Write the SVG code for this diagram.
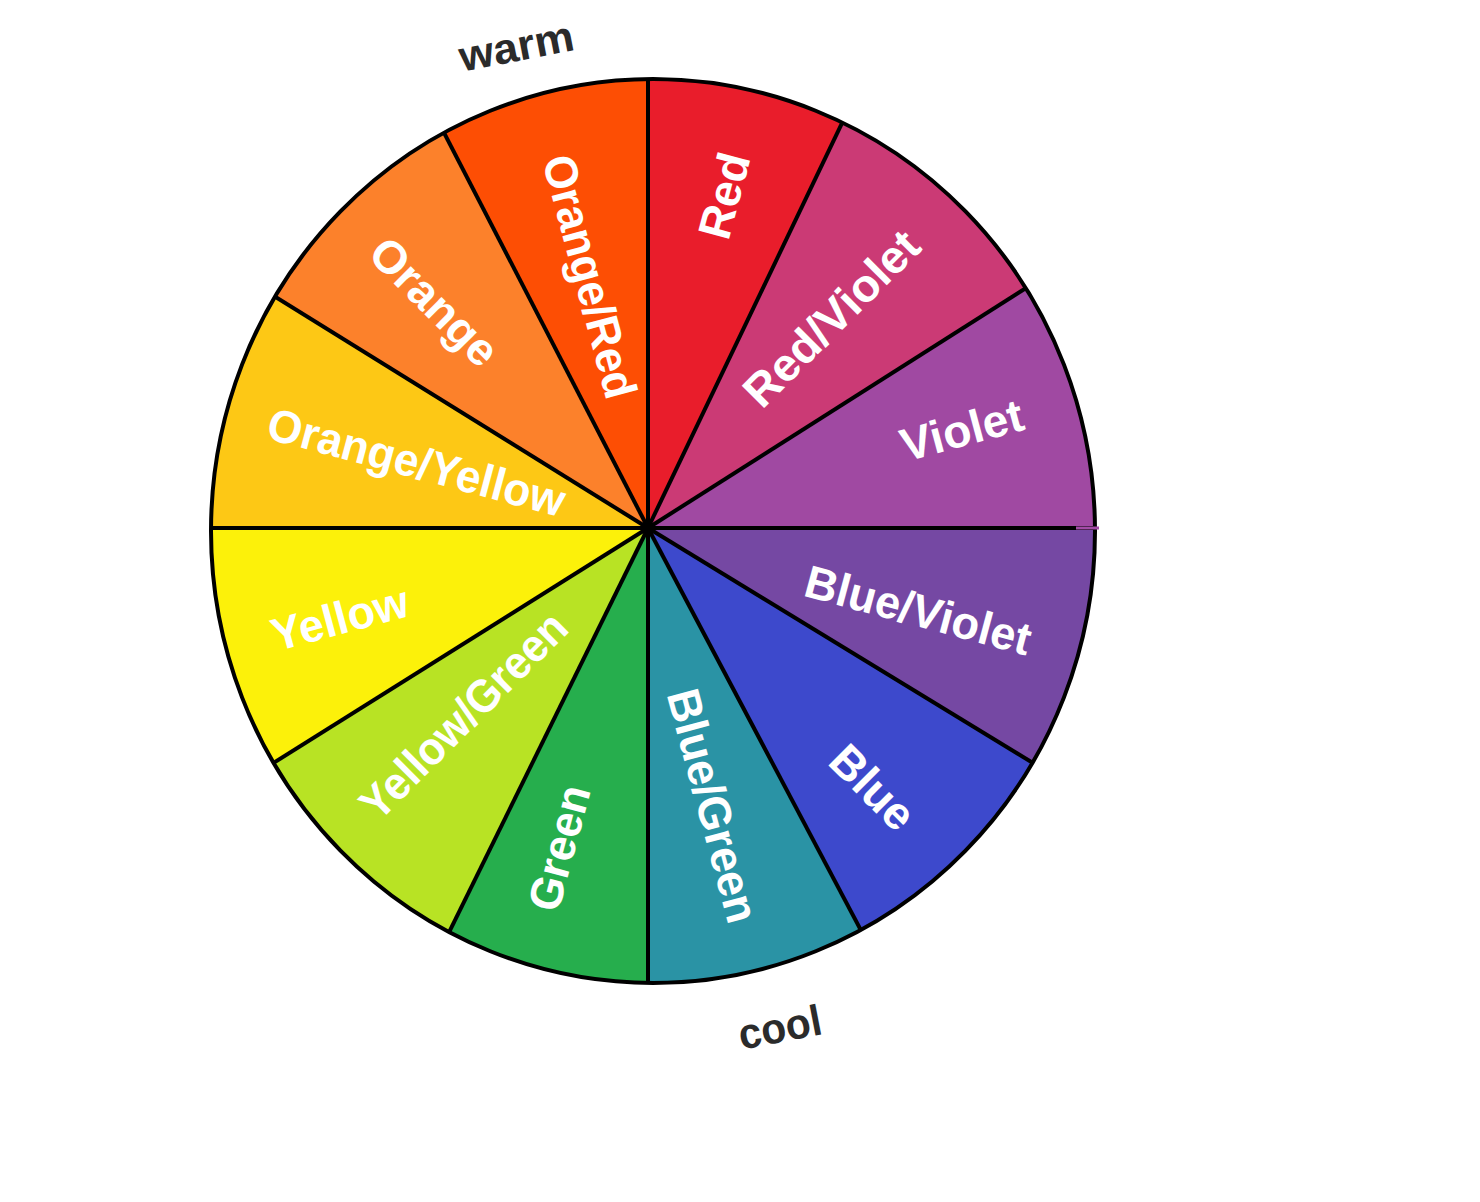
<svg xmlns="http://www.w3.org/2000/svg" width="1480" height="1202" viewBox="0 0 1480 1202">
  <style>
    .lbl { font-family: "Liberation Sans", Arial, sans-serif; font-weight: bold; font-size: 46px; fill: #ffffff; text-anchor: middle; }
    .side { font-family: "Liberation Sans", Arial, sans-serif; font-weight: bold; font-size: 43px; fill: #2b2b2b; text-anchor: middle; }
    .spoke { stroke: #000; stroke-width: 4; fill: none; }
  </style>
  <defs>
    <clipPath id="disk">
      <ellipse cx="653" cy="531" rx="442" ry="452"/>
    </clipPath>
  </defs>
  <rect width="1480" height="1202" fill="#ffffff"/>

  <g id="wheel" clip-path="url(#disk)">
    <polygon id="seg-red" points="648,528 648,-172 950.5,-103.3" fill="#E91D2B"/>
    <polygon id="seg-red-violet" points="648,528 950.5,-103.3 1239,152.9" fill="#CB3A75"/>
    <polygon id="seg-violet" points="648,528 1239,152.9 1348,528" fill="#A049A2"/>
    <polygon id="seg-blue-violet" points="648,528 1348,528 1245.5,892.7" fill="#7548A3"/>
    <polygon id="seg-blue" points="648,528 1245.5,892.7 975.5,1146.7" fill="#3D49CC"/>
    <polygon id="seg-blue-green" points="648,528 975.5,1146.7 648,1228" fill="#2A93A5"/>
    <polygon id="seg-green" points="648,528 648,1228 338.9,1156.1" fill="#26AE4D"/>
    <polygon id="seg-yellow-green" points="648,528 338.9,1156.1 55,900" fill="#B8E324"/>
    <polygon id="seg-yellow" points="648,528 55,900 -52,528" fill="#FCF10A"/>
    <polygon id="seg-orange-yellow" points="648,528 -52,528 53.1,159.1" fill="#FDC815"/>
    <polygon id="seg-orange" points="648,528 53.1,159.1 327,-94" fill="#FC812B"/>
    <polygon id="seg-orange-red" points="648,528 327,-94 648,-172" fill="#FD4E04"/>
  </g>

  <g id="connectors" clip-path="url(#disk)">
    <line class="spoke" x1="648" y1="528" x2="648" y2="-172"/>
    <line class="spoke" x1="648" y1="528" x2="950.5" y2="-103.3"/>
    <line class="spoke" x1="648" y1="528" x2="1239" y2="152.9"/>
    <line class="spoke" x1="648" y1="528" x2="1348" y2="528"/>
    <line class="spoke" x1="648" y1="528" x2="1245.5" y2="892.7"/>
    <line class="spoke" x1="648" y1="528" x2="975.5" y2="1146.7"/>
    <line class="spoke" x1="648" y1="528" x2="648" y2="1228"/>
    <line class="spoke" x1="648" y1="528" x2="338.9" y2="1156.1"/>
    <line class="spoke" x1="648" y1="528" x2="55" y2="900"/>
    <line class="spoke" x1="648" y1="528" x2="-52" y2="528"/>
    <line class="spoke" x1="648" y1="528" x2="53.1" y2="159.1"/>
    <line class="spoke" x1="648" y1="528" x2="327" y2="-94"/>
  </g>

  <ellipse id="rim" cx="653" cy="531" rx="442" ry="452" fill="none" stroke="#000" stroke-width="4"/>
  <line x1="1076" y1="528" x2="1099" y2="528" stroke="#A34BA6" stroke-width="3"/>

  <g id="labels">
    <g id="label-red"><text class="lbl" transform="translate(725 196) rotate(-75)" y="15">Red</text></g>
    <g id="label-orange-red"><text class="lbl" transform="translate(588 277) rotate(75)" y="14" textLength="250" lengthAdjust="spacingAndGlyphs">Orange/Red</text></g>
    <g id="label-orange"><text class="lbl" transform="translate(433 303) rotate(45)" y="14">Orange</text></g>
    <g id="label-orange-yellow"><text class="lbl" transform="translate(416 464) rotate(15)" y="14" textLength="306" lengthAdjust="spacingAndGlyphs">Orange/Yellow</text></g>
    <g id="label-yellow"><text class="lbl" transform="translate(340 619) rotate(-15)" y="15" textLength="140" lengthAdjust="spacingAndGlyphs">Yellow</text></g>
    <g id="label-yellow-green"><text class="lbl" transform="translate(464 716) rotate(-45)" y="15" textLength="272" lengthAdjust="spacingAndGlyphs">Yellow/Green</text></g>
    <g id="label-green"><text class="lbl" transform="translate(560 848) rotate(-75)" y="15" textLength="128" lengthAdjust="spacingAndGlyphs">Green</text></g>
    <g id="label-blue-green"><text class="lbl" transform="translate(712 806) rotate(75)" y="15" textLength="240" lengthAdjust="spacingAndGlyphs">Blue/Green</text></g>
    <g id="label-blue"><text class="lbl" transform="translate(872 788) rotate(45)" y="15">Blue</text></g>
    <g id="label-blue-violet"><text class="lbl" transform="translate(918 611) rotate(15)" y="15" textLength="232" lengthAdjust="spacingAndGlyphs">Blue/Violet</text></g>
    <g id="label-violet"><text class="lbl" transform="translate(962 431) rotate(-15)" y="15" textLength="125" lengthAdjust="spacingAndGlyphs">Violet</text></g>
    <g id="label-red-violet"><text class="lbl" transform="translate(832 319) rotate(-45)" y="15" textLength="228" lengthAdjust="spacingAndGlyphs">Red/Violet</text></g>
  </g>

  <g id="side-labels">
    <text id="warm" class="side" transform="translate(517 50) rotate(-11)" y="11" textLength="116" lengthAdjust="spacingAndGlyphs">warm</text>
    <text id="cool" class="side" transform="translate(780 1028) rotate(-11)" y="14" textLength="84" lengthAdjust="spacingAndGlyphs">cool</text>
  </g>
</svg>
